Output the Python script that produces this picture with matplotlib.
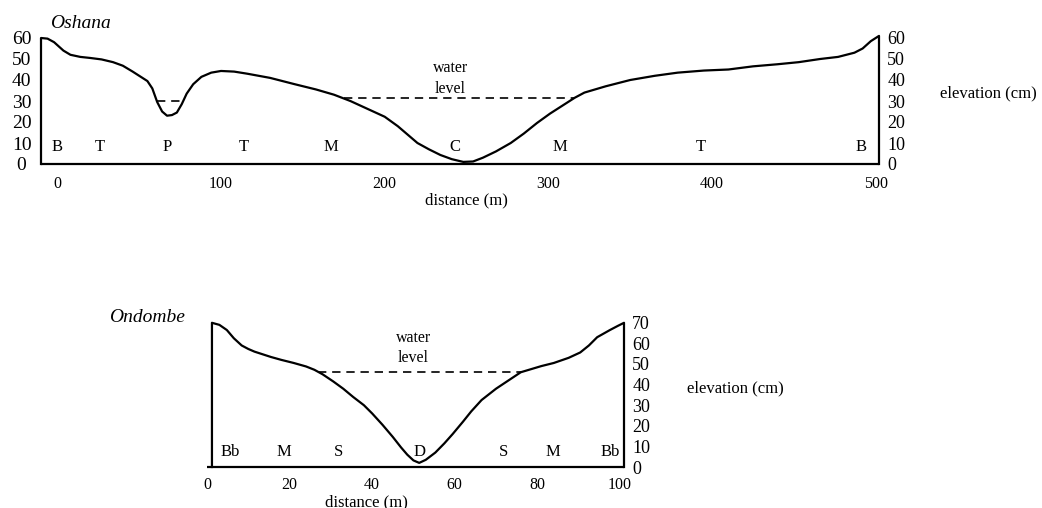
import numpy as np
import matplotlib
matplotlib.use("Agg")
import matplotlib.pyplot as plt

plt.rcParams['font.family'] = ['Liberation Serif', 'DejaVu Serif']

# Oshana cross-section: distance (m), elevation (cm)
osh_dist = [-10, -6, -2, 3.7, 8, 14, 20, 27, 34, 40, 46, 51, 55, 58, 61, 64, 67, 70,
            73, 76, 79, 83, 88, 94, 100, 108, 116, 130, 145, 158, 169, 179, 186, 193,
            200, 208, 214, 220, 227, 234, 241, 248, 254, 260, 268, 277, 285, 293, 301,
            309, 316, 322, 335, 350, 365, 379, 395, 410, 425, 440, 453, 466, 477, 487,
            492, 497, 502]
osh_elev = [60, 59.7, 58, 54, 52, 51, 50.5, 49.8, 48.5, 46.8, 44, 41.5, 39.5, 36, 29.5,
            25, 23, 23.3, 24.5, 28.5, 33.5, 38, 41.5, 43.5, 44.3, 44, 43, 41, 38, 35.5,
            33, 30, 27.5, 25, 22.5, 18, 14, 10, 7, 4.3, 2.3, 1, 1.2, 3, 6, 10, 14.5,
            19.5, 24, 28, 31.5, 34, 37, 40, 42, 43.5, 44.5, 45, 46.5, 47.5, 48.5, 50,
            51, 53, 55, 58.5, 61]
osh_zones = ['B', 'T', 'P', 'T', 'M', 'C', 'M', 'T', 'B']
osh_zone_x = [0, 26, 67, 114, 167, 243, 307, 393, 491]
osh_water = [(30, 61, 76), (31.5, 175, 316)]   # level, from, to

# Ondombe cross-section
ond_dist = [1.2, 3, 4.8, 6.5, 8.4, 10, 11.5, 13.5, 15.5, 18, 21, 24, 26, 28, 30.6, 33,
            35.4, 38, 40, 42.5, 45, 47, 48.5, 50, 51.4, 53, 55.3, 57.5, 59.5, 62, 64,
            66.5, 70, 73, 76, 78.5, 81, 84, 87.6, 90.4, 92.5, 94.5, 97.6, 99.5, 101]
ond_elev = [70, 69, 66.5, 62.5, 59, 57.3, 56, 54.7, 53.4, 52, 50.5, 48.8, 47.2, 45,
            41.5, 38, 34, 30, 26, 20.5, 14.6, 9.5, 6, 3.2, 2, 3.5, 7, 11.5, 16, 22, 27,
            32.5, 38, 42, 46, 47.5, 49, 50.5, 53, 55.6, 59, 63, 66.5, 68.5, 70]
ond_zones = ['Bb', 'M', 'S', 'D', 'S', 'M', 'Bb']
ond_zone_x = [5.5, 18.7, 31.8, 51.4, 71.8, 83.7, 97.6]
ond_water = [(46, 26.8, 76)]

W, H = 1042, 508
fig = plt.figure(figsize=(W / 100, H / 100), dpi=100)


def box(l, r, top, bottom):
    # pixel box -> figure fraction
    return [l / W, 1 - bottom / H, (r - l) / W, (bottom - top) / H]


def profile(ax, dist, elev, zones, zone_x, zone_y, water, water_x, water_y):
    x = np.array(dist)
    y = np.array(elev)
    ax.plot(np.r_[x[0], x, x[-1]], np.r_[0, y, 0], color='black', lw=1.6,
            solid_joinstyle='round', clip_on=False)
    for lev, a, b in water:
        ax.plot([a, b], [lev, lev], color='black', lw=1.2, ls=(0, (5, 3.5)))
    for z, zx in zip(zones, zone_x):
        ax.text(zx, zone_y, z, ha='center', va='center', fontsize=12)
    ax.text(water_x, water_y[0], 'water', ha='center', va='center', fontsize=11.5)
    ax.text(water_x, water_y[1], 'level', ha='center', va='center', fontsize=11.5)
    for s in ['left', 'right', 'top']:
        ax.spines[s].set_visible(False)
    ax.spines['bottom'].set_linewidth(1.6)
    ax.spines['bottom'].set_capstyle('butt')
    ax.tick_params(length=0, labelsize=11.5)
    ax.set_facecolor('none')


# upper panel
ax1 = fig.add_axes(box(41, 879, 164 - 65 * 2.1, 164))
ax1.set_xlim(-10, 502)
ax1.set_ylim(0, 65)
profile(ax1, osh_dist, osh_elev, osh_zones, osh_zone_x, 8, osh_water, 240, (45.7, 35.7))
ax1.set_xticks([0, 100, 200, 300, 400, 500])
ax1.set_yticks(range(0, 61, 10))
ax1.tick_params(axis='x', pad=9)
ax1.tick_params(axis='y', labelsize=14, pad=14)
for lab in ax1.get_yticklabels():
    lab.set_horizontalalignment('center')
ax1r = ax1.twinx()
ax1r.set_ylim(0, 65)
ax1r.set_yticks(range(0, 61, 10))
ax1r.tick_params(length=0, labelsize=13, pad=6)
for s in ax1r.spines.values():
    s.set_visible(False)
ax1.annotate('distance (m)', xy=(250, 0), xycoords=('data', 'axes fraction'),
             xytext=(0, -36), textcoords='offset pixels', ha='center', va='center',
             fontsize=12)
fig.text(50 / W, 1 - 23 / H, 'Oshana', ha='left', va='center', style='italic',
         fontsize=14)
fig.text(940 / W, 1 - 93 / H, 'elevation (cm)', ha='left', va='center', fontsize=12)

# lower panel
ax2 = fig.add_axes(box(207, 624, 467 - 72 * 2.06, 467))
ax2.set_xlim(1.2, 101)
ax2.set_ylim(0, 72)
profile(ax2, ond_dist, ond_elev, ond_zones, ond_zone_x, 7.3, ond_water, 50, (62.6, 52.9))
ax2.set_xticks([0, 20, 40, 60, 80, 100])
ax2.set_yticks(range(0, 71, 10))
ax2.tick_params(axis='x', pad=7)
ax2.tick_params(axis='y', left=False, labelleft=False, right=True, labelright=True,
                labelsize=13, pad=6)
for lab in ax2.get_xticklabels():
    lab.set_clip_on(False)
ax2.annotate('distance (m)', xy=(38.5, 0), xycoords=('data', 'axes fraction'),
             xytext=(0, -35), textcoords='offset pixels', ha='center', va='center',
             fontsize=12)
fig.text(185 / W, 1 - 318 / H, 'Ondombe', ha='right', va='center', style='italic',
         fontsize=14)
fig.text(687 / W, 1 - 388 / H, 'elevation (cm)', ha='left', va='center', fontsize=12)

fig.savefig('out.png', dpi=100, facecolor='white')
